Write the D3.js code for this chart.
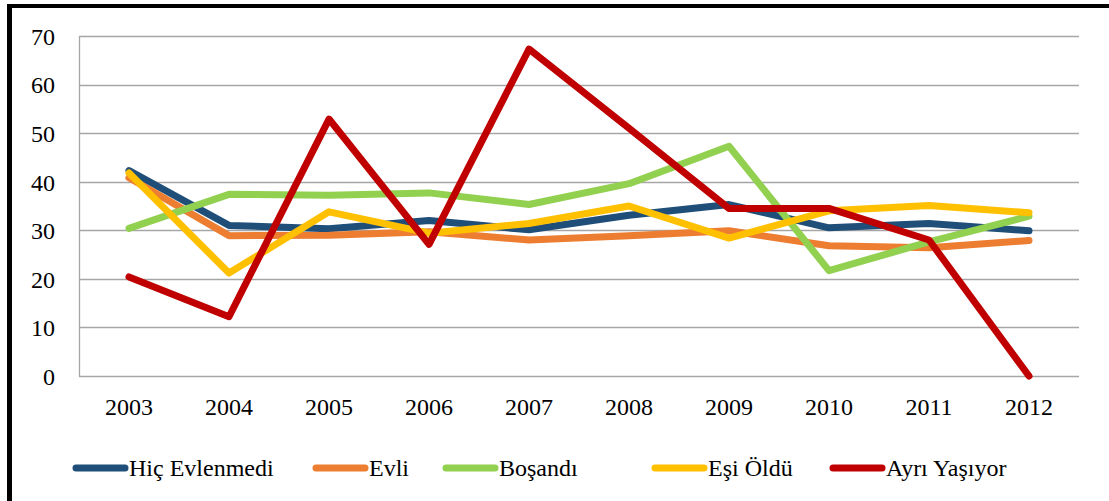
<!DOCTYPE html>
<html><head><meta charset="utf-8">
<script src="https://cdn.jsdelivr.net/npm/d3@7"></script>
<style>
text{font-family:"Liberation Serif",serif !important;}
</style>
</head><body style="margin:0">
<svg id="fig" width="1109" height="501"></svg>
<script>
const years = ["2003","2004","2005","2006","2007","2008","2009","2010","2011","2012"];
const seriesNames = ["Hiç Evlenmedi","Evli","Boşandı","Eşi Öldü","Ayrı Yaşıyor"];
const seriesColors = ["#1F4E79","#ED7D31","#92D050","#FFC000","#C00000"];
const hicEvlenmedi = [42.3, 31.0, 30.3, 32.0, 30.1, 33.1, 35.3, 30.5, 31.4, 29.9];
const evli         = [40.8, 28.9, 29.0, 29.7, 28.0, 28.9, 29.9, 26.8, 26.4, 27.9];
const bosandi      = [30.4, 37.4, 37.2, 37.7, 35.3, 39.6, 47.3, 21.7, 27.6, 32.9];
const esiOldu      = [41.8, 21.2, 33.8, 29.4, 31.4, 35.0, 28.4, 34.0, 35.1, 33.6];
const ayriYasiyor  = [20.4, 12.2, 52.9, 27.1, 67.3, 51.0, 34.5, 34.5, 28.0, 0.0];
const yTicks = [0,10,20,30,40,50,60,70];

const seriesValues = [hicEvlenmedi, evli, bosandi, esiOldu, ayriYasiyor];
const FONT = "Liberation Serif";
const FS = 24;

const svg = d3.select("#fig");
const W = 1109, H = 501;
const plot = {left: 79, right: 1079, top: 36, bottom: 376};

function serif(sel) {
  sel.attr("font-family", FONT).attr("font-size", FS)
     .style("font-family", "'Liberation Serif', serif", "important")
     .style("font-size", FS + "px");
  return sel;
}

svg.append("rect").attr("width", W).attr("height", H).attr("fill", "#fff");

// frame (black border, left & top visible)
svg.append("line").attr("x1", 9.5).attr("x2", 9.5).attr("y1", 4).attr("y2", H)
  .attr("stroke", "#000").attr("stroke-width", 5);
svg.append("line").attr("x1", 7).attr("x2", W).attr("y1", 6).attr("y2", 6)
  .attr("stroke", "#000").attr("stroke-width", 4);

const x = d3.scaleBand().domain(years).range([plot.left, plot.right]);
const y = d3.scaleLinear().domain([0, 70]).range([plot.bottom, plot.top]);

// gridlines
svg.append("g").selectAll("line").data(yTicks).join("line")
  .attr("x1", plot.left).attr("x2", plot.right)
  .attr("y1", d => Math.round(y(d)) + 0.5).attr("y2", d => Math.round(y(d)) + 0.5)
  .attr("stroke", "#A6A6A6").attr("stroke-width", 1.3);

// left axis line
svg.append("line").attr("x1", plot.left + 0.5).attr("x2", plot.left + 0.5)
  .attr("y1", plot.top).attr("y2", plot.bottom + 0.5)
  .attr("stroke", "#A6A6A6").attr("stroke-width", 1.3);

// axes
const yAxis = d3.axisLeft(y).tickValues(yTicks).tickSize(0).tickPadding(24);
const yg = svg.append("g").attr("transform", `translate(${plot.left},0)`).call(yAxis);
serif(yg);
yg.select(".domain").remove();
serif(yg.selectAll("text")).attr("fill", "#000").attr("dy", "0.35em");

const xAxis = d3.axisBottom(x).tickSize(0).tickPadding(22);
const xg = svg.append("g").attr("transform", `translate(0,${plot.bottom})`).call(xAxis);
serif(xg);
xg.select(".domain").remove();
serif(xg.selectAll("text")).attr("fill", "#000").attr("dy", "0.71em");

// lines
const line = d3.line()
  .x((d, i) => x(years[i]) + x.bandwidth() / 2)
  .y(d => y(d));

seriesValues.forEach((vals, si) => {
  svg.append("path").datum(vals)
    .attr("d", line)
    .attr("fill", "none")
    .attr("stroke", seriesColors[si])
    .attr("stroke-width", 7)
    .attr("stroke-linejoin", "round")
    .attr("stroke-linecap", "round");
});

// legend
const legendY = 468;
const legendX = [73, 313, 443, 652, 830];
seriesNames.forEach((name, i) => {
  svg.append("line").attr("x1", legendX[i] + 3).attr("x2", legendX[i] + 52)
    .attr("y1", legendY).attr("y2", legendY)
    .attr("stroke", seriesColors[i]).attr("stroke-width", 7).attr("stroke-linecap", "round");
  serif(svg.append("text")).attr("x", legendX[i] + 56).attr("y", legendY + 8)
    .attr("fill", "#000").text(name);
});
</script>
</body></html>
